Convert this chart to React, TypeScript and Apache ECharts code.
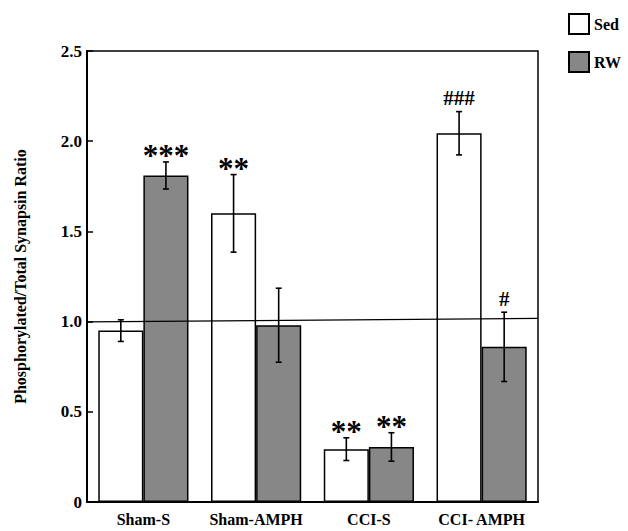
import React, { useEffect, useRef } from "react";
import * as echarts from "echarts";

const categories = ["Sham-S", "Sham-AMPH", "CCI-S", "CCI- AMPH"];
const sedMeans = [0.95, 1.6, 0.293, 2.044];
const sedErrors = [0.06, 0.215, 0.063, 0.12];
const rwMeans = [1.81, 0.98, 0.305, 0.86];
const rwErrors = [0.075, 0.205, 0.079, 0.192];
const sedMarks = ["", "**", "**", "###"];
const rwMarks = ["***", "", "**", "#"];
const refLine = [0.998, 1.018];
const yMin = 0;
const yMax = 2.5;
const yStep = 0.5;

const SERIF = '"Liberation Serif", "Times New Roman", serif';

function errorSeries(name: string, means: number[], errs: number[], marks: string[], offset: number) {
  return {
    name: name + " err",
    type: "custom",
    xAxisIndex: 0,
    yAxisIndex: 0,
    z: 5,
    data: means.map((m, i) => [i, m, errs[i]]),
    renderItem: (params: any, api: any) => {
      const i = api.value(0);
      const m = api.value(1);
      const e = api.value(2);
      const band = api.size([1, 0])[0];
      const hi = api.coord([i, m + e]);
      const lo = api.coord([i, m - e]);
      const x = hi[0] + offset * band;
      const cap = 3;
      const st = { stroke: "#000", lineWidth: 1.6 };
      const children: any[] = [
        { type: "line", shape: { x1: x, y1: hi[1], x2: x, y2: lo[1] }, style: st },
        { type: "line", shape: { x1: x - cap, y1: hi[1], x2: x + cap, y2: hi[1] }, style: st },
        { type: "line", shape: { x1: x - cap, y1: lo[1], x2: x + cap, y2: lo[1] }, style: st },
      ];
      const mark = marks[params.dataIndex];
      if (mark) {
        const star = mark.indexOf("*") >= 0;
        children.push({
          type: "text",
          style: {
            text: mark,
            x: x,
            y: star ? hi[1] + 9 : hi[1] - 3,
            align: "center",
            verticalAlign: "bottom",
            fill: "#000",
            font: star ? `bold 31px ${SERIF}` : `bold 21px ${SERIF}`,
          },
        });
      }
      return { type: "group", children };
    },
  };
}

export default function App() {
  const ref = useRef<HTMLDivElement>(null);
  useEffect(() => {
    if (!ref.current) return;
    const chart = echarts.init(ref.current, null, { renderer: "svg" });
    const barBase = {
      type: "bar",
      xAxisIndex: 0,
      yAxisIndex: 0,
      barGap: "0%",
      barCategoryGap: "20%",
      z: 2,
    };
    chart.setOption({
      animation: false,
      backgroundColor: "#fff",
      textStyle: { fontFamily: SERIF },
      grid: {
        left: 87,
        right: 90,
        top: 51,
        bottom: 29,
        show: true,
        borderColor: "#000",
        borderWidth: 1.5,
        backgroundColor: "transparent",
      },
      legend: {
        data: [
          { name: "Sed", icon: "rect" },
          { name: "RW", icon: "rect" },
        ],
        orient: "vertical",
        left: 563,
        top: 8,
        itemWidth: 20,
        itemHeight: 20,
        itemGap: 16,
        textStyle: { fontSize: 16, fontWeight: "bold", color: "#000", fontFamily: SERIF },
      },
      xAxis: [
        {
          type: "category",
          data: categories,
          axisLine: { lineStyle: { color: "#000", width: 2 } },
          axisTick: { show: false },
          axisLabel: {
            interval: 0,
            color: "#000",
            fontSize: 16,
            fontWeight: "bold",
            fontFamily: SERIF,
            margin: 9,
          },
        },
        { type: "value", min: 0, max: 1, show: false },
      ],
      yAxis: {
        type: "value",
        min: yMin,
        max: yMax,
        interval: yStep,
        name: "Phosphorylated/Total Synapsin Ratio",
        nameLocation: "middle",
        nameGap: 59,
        nameTextStyle: { fontSize: 16, fontWeight: "bold", color: "#000", fontFamily: SERIF },
        axisLine: { show: true, lineStyle: { color: "#000", width: 2 } },
        axisTick: { show: true, inside: true, length: 6, lineStyle: { color: "#000", width: 1.5 } },
        splitLine: { show: false },
        axisLabel: {
          color: "#000",
          fontSize: 17,
          fontWeight: "bold",
          fontFamily: SERIF,
          margin: 5,
          formatter: (v: number) => (v === 0 ? "0" : v.toFixed(1)),
        },
      },
      series: [
        {
          ...barBase,
          name: "Sed",
          data: sedMeans,
          itemStyle: { color: "#ffffff", borderColor: "#000", borderWidth: 1.5 },
        },
        {
          ...barBase,
          name: "RW",
          data: rwMeans,
          itemStyle: { color: "#878787", borderColor: "#000", borderWidth: 1.5 },
        },
        errorSeries("Sed", sedMeans, sedErrors, sedMarks, -0.2),
        errorSeries("RW", rwMeans, rwErrors, rwMarks, 0.2),
        {
          name: "ref",
          type: "line",
          xAxisIndex: 1,
          yAxisIndex: 0,
          data: [
            [0, refLine[0]],
            [1, refLine[1]],
          ],
          symbol: "none",
          z: 4,
          lineStyle: { color: "#000", width: 1.3 },
        },
      ],
    });
    return () => chart.dispose();
  }, []);
  return (
    <div
      ref={ref}
      style={{ position: "fixed", left: 0, top: 0, width: 628, height: 531, background: "#fff" }}
    />
  );
}
